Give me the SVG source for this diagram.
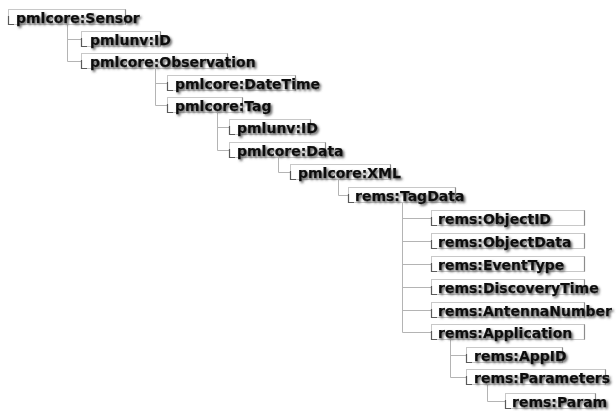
<svg xmlns="http://www.w3.org/2000/svg" width="616" height="411" viewBox="0 0 616 411">
  <defs>
    <filter id="txtShadow" x="-5%" y="-30%" width="115%" height="170%">
      <feDropShadow dx="1.6" dy="1.7" stdDeviation="0.8" flood-color="#555555" flood-opacity="0.95"/>
    </filter>
  </defs>
  <style>
    .box { fill: #ffffff; stroke: #c8c8c8; stroke-width: 1; }
    .edge { fill: none; stroke: #8c8c8c; stroke-width: 1.2; }
    .tick { fill: none; stroke: #5a5a5a; stroke-width: 1.2; }
    .lbl { font-family: "DejaVu Sans", Verdana, sans-serif; font-weight: bold; font-size: 14px; fill: #0d0d0d; stroke: #0d0d0d; stroke-width: 0.25; filter: url(#txtShadow); }
    .conn line { stroke: #b4b4b4; stroke-width: 1; }
  </style>
  <rect width="616" height="411" fill="#ffffff"/>

  <!-- tree connectors: a vertical stem per parent, one branch per child -->
  <g id="connectors" class="conn">
    <line x1="67.5" y1="23" x2="67.5" y2="61.5"/>
    <line x1="67.5" y1="39.5" x2="81" y2="39.5"/>
    <line x1="67.5" y1="61.5" x2="81" y2="61.5"/>

    <line x1="155.5" y1="68" x2="155.5" y2="105.5"/>
    <line x1="155.5" y1="83.5" x2="167" y2="83.5"/>
    <line x1="155.5" y1="105.5" x2="167" y2="105.5"/>

    <line x1="217.5" y1="112" x2="217.5" y2="150.5"/>
    <line x1="217.5" y1="127.5" x2="229" y2="127.5"/>
    <line x1="217.5" y1="150.5" x2="229" y2="150.5"/>

    <line x1="278.5" y1="157" x2="278.5" y2="172.5"/>
    <line x1="278.5" y1="172.5" x2="290" y2="172.5"/>

    <line x1="338.5" y1="179" x2="338.5" y2="195.5"/>
    <line x1="338.5" y1="195.5" x2="348" y2="195.5"/>

    <line x1="402.5" y1="202" x2="402.5" y2="332.5"/>
    <line x1="402.5" y1="218.5" x2="431" y2="218.5"/>
    <line x1="402.5" y1="241.5" x2="431" y2="241.5"/>
    <line x1="402.5" y1="264.5" x2="431" y2="264.5"/>
    <line x1="402.5" y1="287.5" x2="431" y2="287.5"/>
    <line x1="402.5" y1="310.5" x2="431" y2="310.5"/>
    <line x1="402.5" y1="332.5" x2="431" y2="332.5"/>

    <line x1="450.5" y1="339" x2="450.5" y2="377.5"/>
    <line x1="450.5" y1="355.5" x2="466" y2="355.5"/>
    <line x1="450.5" y1="377.5" x2="466" y2="377.5"/>

    <line x1="487.5" y1="384" x2="487.5" y2="401.5"/>
    <line x1="487.5" y1="401.5" x2="505" y2="401.5"/>
  </g>

  <!-- element nodes: field box with raised right edge, label on top -->
  <g id="n-sensor">
    <rect class="box" x="8.5" y="9.5" width="117" height="15"/>
    <polyline class="edge" points="125.5,9.5 125.5,24.5"/>
    <polyline class="tick" points="8.5,16 8.5,24.5 14,24.5"/>
    <text class="lbl" x="16" y="23">pmlcore:Sensor</text>
  </g>
  <g id="n-sensor-id">
    <rect class="box" x="81.5" y="31.5" width="79" height="15"/>
    <polyline class="edge" points="160.5,31.5 160.5,46.5"/>
    <polyline class="tick" points="81.5,38 81.5,46.5 87,46.5"/>
    <text class="lbl" x="90" y="45">pmlunv:ID</text>
  </g>
  <g id="n-observation">
    <rect class="box" x="81.5" y="53.5" width="146" height="15"/>
    <polyline class="edge" points="227.5,53.5 227.5,68.5"/>
    <polyline class="tick" points="81.5,60 81.5,68.5 87,68.5"/>
    <text class="lbl" x="90" y="67">pmlcore:Observation</text>
  </g>
  <g id="n-datetime">
    <rect class="box" x="167.5" y="75.5" width="128" height="15"/>
    <polyline class="edge" points="295.5,75.5 295.5,90.5"/>
    <polyline class="tick" points="167.5,82 167.5,90.5 173,90.5"/>
    <text class="lbl" x="175" y="89">pmlcore:DateTime</text>
  </g>
  <g id="n-tag">
    <rect class="box" x="167.5" y="97.5" width="75" height="15"/>
    <polyline class="edge" points="242.5,97.5 242.5,112.5"/>
    <polyline class="tick" points="167.5,104 167.5,112.5 173,112.5"/>
    <text class="lbl" x="175" y="111">pmlcore:Tag</text>
  </g>
  <g id="n-tag-id">
    <rect class="box" x="229.5" y="119.5" width="81" height="15"/>
    <polyline class="edge" points="310.5,119.5 310.5,134.5"/>
    <polyline class="tick" points="229.5,126 229.5,134.5 235,134.5"/>
    <text class="lbl" x="237" y="133">pmlunv:ID</text>
  </g>
  <g id="n-data">
    <rect class="box" x="229.5" y="142.5" width="96" height="15"/>
    <polyline class="edge" points="325.5,142.5 325.5,157.5"/>
    <polyline class="tick" points="229.5,149 229.5,157.5 235,157.5"/>
    <text class="lbl" x="237" y="156">pmlcore:Data</text>
  </g>
  <g id="n-xml">
    <rect class="box" x="290.5" y="164.5" width="100" height="15"/>
    <polyline class="edge" points="390.5,164.5 390.5,179.5"/>
    <polyline class="tick" points="290.5,171 290.5,179.5 296,179.5"/>
    <text class="lbl" x="298" y="178">pmlcore:XML</text>
  </g>
  <g id="n-tagdata">
    <rect class="box" x="348.5" y="187.5" width="107" height="15"/>
    <polyline class="edge" points="455.5,187.5 455.5,202.5"/>
    <polyline class="tick" points="348.5,194 348.5,202.5 354,202.5"/>
    <text class="lbl" x="355" y="201">rems:TagData</text>
  </g>
  <g id="n-objectid">
    <rect class="box" x="431.5" y="210.5" width="153" height="15"/>
    <polyline class="edge" points="584.5,210.5 584.5,225.5"/>
    <polyline class="tick" points="431.5,217 431.5,225.5 437,225.5"/>
    <text class="lbl" x="438" y="224">rems:ObjectID</text>
  </g>
  <g id="n-objectdata">
    <rect class="box" x="431.5" y="233.5" width="153" height="15"/>
    <polyline class="edge" points="584.5,233.5 584.5,248.5"/>
    <polyline class="tick" points="431.5,240 431.5,248.5 437,248.5"/>
    <text class="lbl" x="438" y="247">rems:ObjectData</text>
  </g>
  <g id="n-eventtype">
    <rect class="box" x="431.5" y="256.5" width="153" height="15"/>
    <polyline class="edge" points="584.5,256.5 584.5,271.5"/>
    <polyline class="tick" points="431.5,263 431.5,271.5 437,271.5"/>
    <text class="lbl" x="438" y="270">rems:EventType</text>
  </g>
  <g id="n-discoverytime">
    <rect class="box" x="431.5" y="279.5" width="153" height="15"/>
    <polyline class="edge" points="584.5,279.5 584.5,294.5"/>
    <polyline class="tick" points="431.5,286 431.5,294.5 437,294.5"/>
    <text class="lbl" x="438" y="293">rems:DiscoveryTime</text>
  </g>
  <g id="n-antennanumber">
    <rect class="box" x="431.5" y="302.5" width="153" height="15"/>
    <polyline class="edge" points="584.5,302.5 584.5,317.5"/>
    <polyline class="tick" points="431.5,309 431.5,317.5 437,317.5"/>
    <text class="lbl" x="438" y="316">rems:AntennaNumber</text>
  </g>
  <g id="n-application">
    <rect class="box" x="431.5" y="324.5" width="153" height="15"/>
    <polyline class="edge" points="584.5,324.5 584.5,339.5"/>
    <polyline class="tick" points="431.5,331 431.5,339.5 437,339.5"/>
    <text class="lbl" x="438" y="338">rems:Application</text>
  </g>
  <g id="n-appid">
    <rect class="box" x="466.5" y="347.5" width="96" height="15"/>
    <polyline class="edge" points="562.5,347.5 562.5,362.5"/>
    <polyline class="tick" points="466.5,354 466.5,362.5 472,362.5"/>
    <text class="lbl" x="474" y="361">rems:AppID</text>
  </g>
  <g id="n-parameters">
    <rect class="box" x="466.5" y="369.5" width="139" height="15"/>
    <polyline class="edge" points="605.5,369.5 605.5,384.5"/>
    <polyline class="tick" points="466.5,376 466.5,384.5 472,384.5"/>
    <text class="lbl" x="474" y="383">rems:Parameters</text>
  </g>
  <g id="n-param">
    <rect class="box" x="505.5" y="393.5" width="90" height="15"/>
    <polyline class="edge" points="595.5,393.5 595.5,408.5"/>
    <polyline class="tick" points="505.5,400 505.5,408.5 511,408.5"/>
    <text class="lbl" x="512" y="407">rems:Param</text>
  </g>
</svg>
